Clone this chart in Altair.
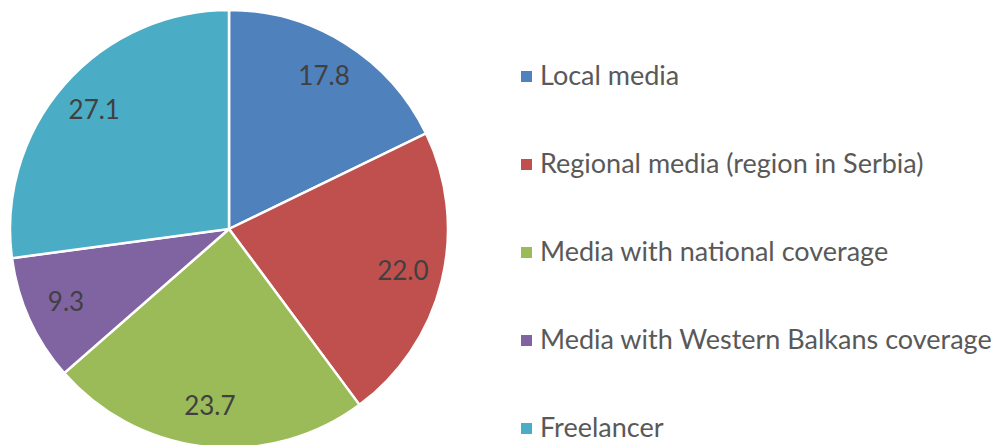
import altair as alt
import pandas as pd

categories = ["Local media", "Regional media (region in Serbia)", "Media with national coverage",
              "Media with Western Balkans coverage", "Freelancer"]
values = [17.8, 22.0, 23.7, 9.3, 27.1]
labels = ["17.8", "22.0", "23.7", "9.3", "27.1"]
colors = ["#4F81BD", "#C0504D", "#9BBB59", "#8064A2", "#4BACC6"]

df = pd.DataFrame({"category": categories, "value": values, "label": labels,
                   "order": list(range(len(categories)))})

FONT = "Lato"

base = alt.Chart(df).encode(
    theta=alt.Theta("value:Q", stack=True),
    order=alt.Order("order:Q"),
    x=alt.value(221),
    y=alt.value(221),
)

pie = base.mark_arc(radius=219, stroke="white", strokeWidth=2.5).encode(
    color=alt.Color(
        "category:N",
        scale=alt.Scale(domain=categories, range=colors),
        sort=categories,
        legend=alt.Legend(
            title=None, orient="none", legendX=505, legendY=55,
            symbolType="square", symbolSize=121, symbolStrokeWidth=0,
            labelFontSize=27, labelFont=FONT, labelColor="#595959",
            labelLimit=0, rowPadding=60, padding=0, symbolOffset=0, labelOffset=0,
        ),
    )
)

text = base.mark_text(radius=179, fontSize=26, font=FONT, color="#404040").encode(
    text="label:N"
)

chart = (pie + text).properties(
    width=987, height=437, padding=0,
    autosize=alt.AutoSizeParams(type="none"),
).configure_view(stroke=None)

chart.save("out.html", embed_options={"renderer": "svg", "actions": False})
